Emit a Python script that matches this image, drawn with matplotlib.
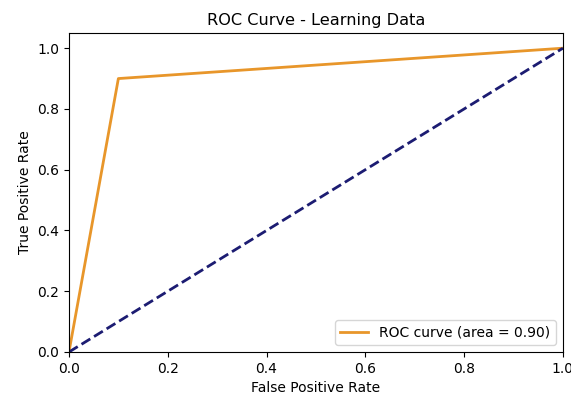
import matplotlib

matplotlib.use("Agg")

import matplotlib.pyplot as plt

# ROC points
fpr = [0.0, 0.1, 1.0]
tpr = [0.0, 0.9, 1.0]
roc_auc = 0.90

chance_x = [0, 1]
chance_y = [0, 1]

fig = plt.figure(figsize=(5.71, 3.98), dpi=100)
ax = fig.add_axes([0.1208, 0.1156, 0.865, 0.8015])

ax.plot(fpr, tpr, color="#e8962a", lw=2,
        label="ROC curve (area = %0.2f)" % roc_auc)
ax.plot(chance_x, chance_y, color="#1c1c72", lw=2, linestyle="--")
ax.set_xlim([0.0, 1.0])
ax.set_ylim([0.0, 1.05])
ax.set_xlabel("False Positive Rate", fontsize=10)
ax.set_ylabel("True Positive Rate", fontsize=10)
ax.set_title("ROC Curve - Learning Data", fontsize=11.6)
ax.tick_params(labelsize=10)
ax.legend(loc="lower right", fontsize=10)

fig.savefig("out.png", dpi=100)
plt.close(fig)
